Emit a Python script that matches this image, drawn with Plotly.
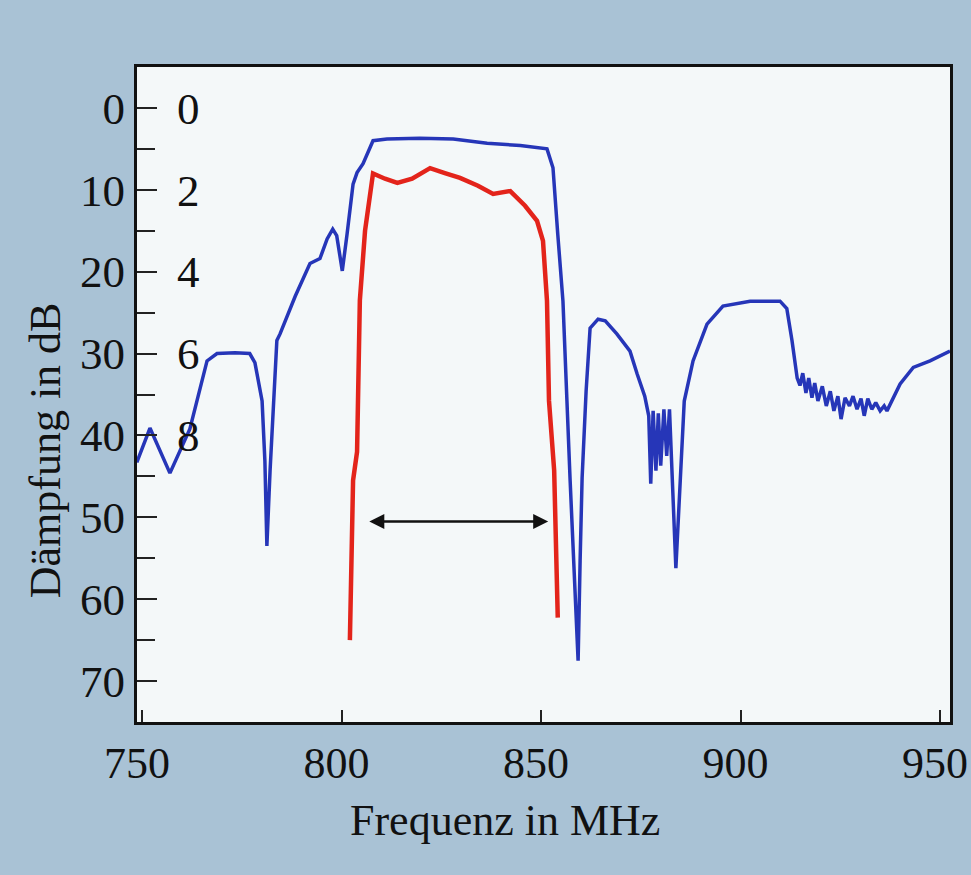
import plotly.graph_objects as go

# Blue curve: full filter response (Dämpfung in dB, main axis)
blue_f = [748.7, 752.0, 757.0, 762.0, 766.3, 768.8, 773.3, 777.0, 778.3, 780.1, 780.8, 781.3, 782.1,
          783.8, 784.6, 788.4, 792.1, 794.6, 796.4, 797.8, 798.8, 800.2, 801.4, 802.9, 803.9, 805.4,
          807.9, 811.4, 819.6, 828.0, 836.5, 844.8, 851.5, 853.0, 854.2, 855.5, 857.3, 858.1, 859.3,
          859.8, 860.3, 861.3, 862.3, 864.3, 866.1, 869.0, 872.3, 874.1, 876.0, 877.0,
          877.5, 878.1, 878.8, 879.4, 880.0, 880.8, 881.5, 882.2, 883.0, 883.8, 884.9, 885.9, 888.1,
          891.6, 895.6, 902.4, 909.9, 911.6, 912.9, 914.2,
          914.9, 915.6, 916.4, 917.1, 917.9, 918.6, 919.4, 920.5, 921.5, 922.5, 923.4, 924.4, 925.2,
          926.2, 927.3, 928.2, 929.2, 930.2, 931.0, 931.9, 932.9, 933.9, 935.0, 936.0, 936.7,
          940.0, 943.3, 947.5, 952.5]
blue_db = [43.3, 39.1, 44.6, 39.2, 30.9, 30.0, 29.9, 30.0, 31.1, 35.8, 43.1, 53.5, 44.3,
           28.4, 27.6, 23.0, 19.0, 18.4, 16.0, 14.8, 15.6, 19.9, 15.4, 9.3, 7.9, 6.8,
           4.0, 3.8, 3.7, 3.8, 4.3, 4.6, 5.0, 7.3, 15.4, 23.6, 45.5, 55.3, 67.5,
           55.3, 45.2, 34.6, 26.9, 25.8, 26.0, 27.6, 29.7, 32.5, 35.2, 37.6,
           45.9, 37.0, 44.3, 37.3, 43.7, 36.8, 42.5, 36.8, 45.5, 56.2, 45.5, 35.8, 30.9,
           26.4, 24.2, 23.6, 23.6, 24.5, 28.4, 33.0,
           33.9, 32.4, 34.8, 33.0, 35.4, 33.6, 35.8, 34.0, 36.4, 34.6, 37.0, 35.2, 38.0,
           35.4, 36.4, 35.2, 36.8, 35.5, 37.6, 35.5, 36.8, 36.0, 37.0, 36.4, 37.0,
           33.7, 31.7, 30.9, 29.7]

# Red curve: passband detail (inner scale 0..8 dB)
red_f = [802.1, 802.9, 803.9, 804.6, 805.9, 807.7, 807.9, 810.9, 814.0, 817.7, 822.2, 825.9,
         829.7, 834.2, 838.0, 842.3, 846.0, 849.0, 850.5, 851.5, 852.0, 853.3, 854.2]
red_db = [13.0, 9.1, 8.4, 4.7, 3.0, 1.6, 1.6, 1.73, 1.83, 1.73, 1.47, 1.59,
          1.71, 1.90, 2.10, 2.03, 2.39, 2.76, 3.25, 4.71, 7.15, 8.86, 12.45]

# Bandwidth arrow (MHz, dB)
arrow_f = [806.6, 851.8]
arrow_db = 50.5

x_ticks = [750, 800, 850, 900, 950]
y_ticks = [0, 10, 20, 30, 40, 50, 60, 70]
y2_ticks = [0, 2, 4, 6, 8]

FONT = "Liberation Serif"

fig = go.Figure()
fig.add_trace(go.Scatter(x=blue_f, y=blue_db, mode="lines",
                         line=dict(color="#2636b8", width=3.5), yaxis="y"))
fig.add_trace(go.Scatter(x=red_f, y=red_db, mode="lines",
                         line=dict(color="#e3241b", width=4.5), yaxis="y2"))

fig.add_annotation(x=arrow_f[1], y=arrow_db, ax=arrow_f[0], ay=arrow_db,
                   xref="x", yref="y", axref="x", ayref="y",
                   showarrow=True, arrowhead=2, arrowsize=1.2, arrowwidth=2.5,
                   arrowside="end+start", arrowcolor="#111111", text="")

# axis titles (placed as in the original print)
fig.add_annotation(text="Frequenz in MHz", xref="paper", yref="paper", x=0.453, y=-0.15,
                   xanchor="center", yanchor="middle", showarrow=False,
                   font=dict(family=FONT, size=44, color="#111111"))
fig.add_annotation(text="Dämpfung in dB", xref="paper", yref="paper", x=-0.113, y=0.415,
                   xanchor="center", yanchor="middle", showarrow=False, textangle=-90,
                   font=dict(family=FONT, size=44, color="#111111"))

fig.update_layout(
    width=971, height=875, autosize=False,
    margin=dict(l=137, r=21, t=67, b=153),
    paper_bgcolor="#a9c2d5",
    plot_bgcolor="#f4f8f9",
    showlegend=False,
    font=dict(family=FONT, color="#111111", size=44),
    xaxis=dict(range=[748.75, 952.5], tickvals=x_ticks, ticks="inside", ticklen=12,
               tickwidth=2, tickcolor="#222", showgrid=False, zeroline=False,
               showline=True, linecolor="#111", linewidth=3, mirror=True,
               ticklabeloverflow="allow", automargin=False, ticklabelshift=-5,
               tickfont=dict(family=FONT, size=44)),
    yaxis=dict(range=[75, -5], tickvals=y_ticks, ticks="inside", ticklen=20,
               tickwidth=2, tickcolor="#222", showgrid=False, zeroline=False,
               showline=True, linecolor="#111", linewidth=3, mirror=True, automargin=False,
               minor=dict(dtick=5, tick0=0, ticks="inside", ticklen=18, tickwidth=2,
                          tickcolor="#222"),
               tickfont=dict(family=FONT, size=45)),
    yaxis2=dict(range=[15, -1], overlaying="y", side="left", anchor="free", position=0.077,
                tickvals=y2_ticks, ticks="", showgrid=False, zeroline=False, showline=False,
                automargin=False, tickfont=dict(family=FONT, size=45)),
)

fig.write_html("out.html",
               config={"responsive": False, "displayModeBar": False},
               post_script="document.body.style.margin='0';document.body.style.overflow='hidden';")
